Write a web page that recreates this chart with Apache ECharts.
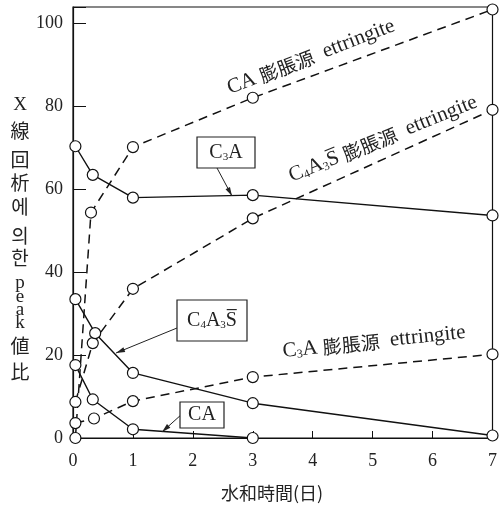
<!DOCTYPE html>
<html><head><meta charset="utf-8">
<script src="https://cdn.jsdelivr.net/npm/echarts@6/dist/echarts.min.js"></script>
<style>html,body{margin:0;padding:0;background:#fff}#c{width:500px;height:507px}</style>
</head><body><div id="c"></div>
<script>
// Data (hydration time in days, XRD peak ratio)
const xTicks = [0,1,2,3,4,5,6,7];
const yTicks = [0,20,40,60,80,100];
const daysC3A = [0.04, 0.33, 1, 3, 7];
const valC3A = [70.4, 63.5, 58, 58.6, 53.7];
const daysC4A3S = [0.04, 0.37, 1, 3, 7];
const valC4A3S = [33.5, 25.3, 15.7, 8.4, 0.6];
const daysCA = [0.04, 0.33, 1, 3];
const valCA = [17.6, 9.3, 2.1, 0];
const daysEttCA = [0.04, 0.3, 1, 3, 7];
const valEttCA = [0, 54.4, 70.2, 82.1, 103.4];
const daysEttC4A3S = [0.04, 0.33, 1, 3, 7];
const valEttC4A3S = [8.7, 22.9, 36, 53, 79.2];
const daysEttC3A = [0.04, 0.35, 1, 3, 7];
const valEttC3A = [3.6, 4.7, 8.9, 14.7, 20.2];
const yTitleChars = ['X','線','回','析','에','의','한','p','e','a','k','値','比'];

const FONT = '"Liberation Serif","DejaVu Serif","Noto Sans CJK KR",serif';
const CJK = '"Noto Sans CJK JP","Noto Sans CJK KR",sans-serif';
const zip = (a,b)=>a.map((v,i)=>[v,b[i]]);
function mk(name, xs, ys, dashed){
  return {type:'line', name, data: zip(xs,ys), symbol:'circle', symbolSize:11,
    itemStyle:{color:'#fff', borderColor:'#111', borderWidth:1.2},
    lineStyle:{color:'#111', width: dashed?1.5:1.4, type: dashed?[9,6]:'solid'},
    z: dashed?2:3, animation:false};
}
const chart = echarts.init(document.getElementById('c'));
const yPos = [105,131,160,183,207,236,258,283,297,310,323,346,372];
const graphics = [];
yTitleChars.forEach((ch,i)=>{
  const latin = /[a-zX]/.test(ch);
  graphics.push({type:'text', x:20, y:yPos[i], style:{text:ch, fill:'#222', font: (latin? '19px ':'19px ') + (latin?FONT:CJK), textAlign:'center', textVerticalAlign:'middle'}});
});
graphics.push({type:'text', x:272, y:493, style:{text:'水和時間(日)', fill:'#222', font:'18px '+CJK, textAlign:'center', textVerticalAlign:'middle'}});
// rotated annotations
function rich(x,y,rot,parts){
  graphics.push({type:'text', x, y, rotation: rot*Math.PI/180,
    style:{rich:{n:{fontSize:21,fontFamily:FONT,fill:'#222'}, s:{fontSize:12,fontFamily:FONT,fill:'#222',padding:[9,0,0,0]}, j:{fontSize:19,fontFamily:CJK,fill:'#222'}}, text:parts, textAlign:'center', textVerticalAlign:'middle'}});
}
rich(311, 57, 21, '{n|CA }{j|膨脹源}{n|  ettringite}');
rich(383, 139, 22, '{n|C}{s|4}{n|A}{s|3}{n|S\u0305 }{j|膨脹源}{n|  ettringite}');
rich(374, 342, 6, '{n|C}{s|3}{n|A }{j|膨脹源}{n|  ettringite}');
// boxes
function box(x,y,w,h,parts){
  graphics.push({type:'rect', shape:{x,y,width:w,height:h}, style:{fill:'#fff', stroke:'#222', lineWidth:1.2}, z:10});
  graphics.push({type:'text', x:x+w/2, y:y+h/2, z:11, style:{rich:{n:{fontSize:20,fontFamily:FONT,fill:'#222'}, s:{fontSize:11,fontFamily:FONT,fill:'#222',padding:[9,0,0,0]}}, text:parts, textAlign:'center', textVerticalAlign:'middle'}});
}
function arrow(x1,y1,x2,y2){
  graphics.push({type:'line', shape:{x1,y1,x2,y2}, style:{stroke:'#222', lineWidth:1}, z:9});
  const a = Math.atan2(y2-y1,x2-x1), L=9, W=2.5;
  const bx = x2-L*Math.cos(a), by = y2-L*Math.sin(a);
  graphics.push({type:'polygon', shape:{points:[[x2,y2],[bx+W*Math.sin(a),by-W*Math.cos(a)],[bx-W*Math.sin(a),by+W*Math.cos(a)]]}, style:{fill:'#222'}, z:9});
}
box(197,137,58,31,'{n|C}{s|3}{n|A}');
arrow(217,168,232,196);
box(177,300,70,41,'{n|C}{s|4}{n|A}{s|3}{n|S\u0305}');
arrow(177,328,116,353);
box(180,402,44,26,'{n|CA}');
arrow(182,414,162,432);

chart.setOption({
  animation:false,
  grid:{left:73, right:7, top:7, bottom:69, show:true, borderColor:'#111', borderWidth:1.2},
  xAxis:{type:'value', min:0, max:7, interval:1,
    axisLine:{lineStyle:{color:'#111', width:1.2}},
    axisTick:{inside:true, length:7, lineStyle:{color:'#111'}},
    axisLabel:{color:'#222', fontFamily:FONT, fontSize:18, margin:14, formatter:v=>xTicks.includes(v)?String(v):''},
    splitLine:{show:false}},
  yAxis:{type:'value', min:0, max:104, interval:20,
    axisLine:{show:true, lineStyle:{color:'#111', width:1.2}},
    axisTick:{inside:true, length:13, lineStyle:{color:'#111'}},
    axisLabel:{color:'#222', fontFamily:FONT, fontSize:18, margin:10, formatter:v=>yTicks.includes(v)?String(v):''},
    splitLine:{show:false}},
  series:[
    mk('C3A', daysC3A, valC3A, false),
    mk('C4A3S', daysC4A3S, valC4A3S, false),
    mk('CA', daysCA, valCA, false),
    mk('CA ettringite', daysEttCA, valEttCA, true),
    mk('C4A3S ettringite', daysEttC4A3S, valEttC4A3S, true),
    mk('C3A ettringite', daysEttC3A, valEttC3A, true)
  ],
  graphic: graphics
});
</script></body></html>
